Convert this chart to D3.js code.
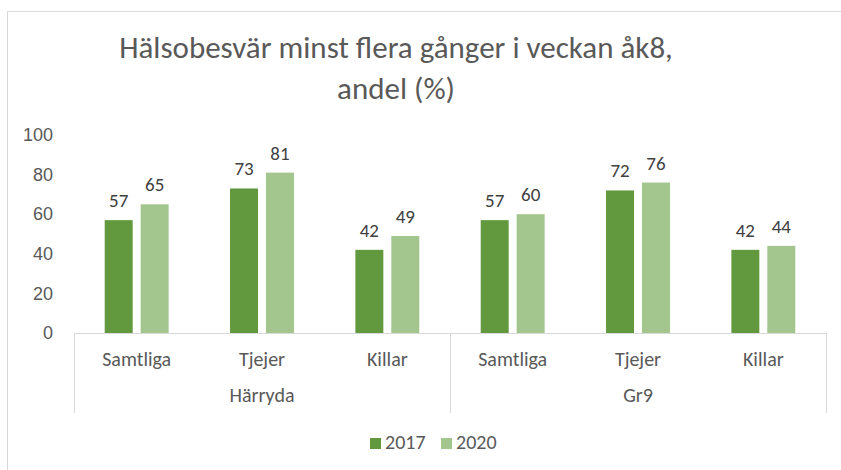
<!DOCTYPE html>
<html>
<head>
<meta charset="utf-8">
<script src="https://cdn.jsdelivr.net/npm/d3@7"></script>
<style>
  body { margin: 0; background: #fff; }
  svg { display: block; font-family: Carlito, "Liberation Sans Narrow", "Open Sans", sans-serif; }
</style>
</head>
<body>
<div id="vis"></div>
<script>
// chart data
var groups = ['Härryda', 'Gr9'];
var subCategories = ['Samtliga', 'Tjejer', 'Killar'];
var years = ['2017', '2020'];
var values2017 = [57, 73, 42, 57, 72, 42];
var values2020 = [65, 81, 49, 60, 76, 44];
var yTicks = [0, 20, 40, 60, 80, 100];

var width = 841;
var height = 470;
var colors = ['#62993e', '#a3c68e'];
var textColor = '#595959';

var svg = d3.select('#vis').append('svg')
  .attr('width', width)
  .attr('height', height);

// chart frame
svg.append('rect')
  .attr('x', 7.5).attr('y', 11.5)
  .attr('width', 850).attr('height', 480)
  .attr('fill', 'none')
  .attr('stroke', '#d9d9d9');

// title
var title = svg.append('text')
  .attr('text-anchor', 'middle')
  .attr('fill', textColor)
  .style('font-size', '31px');
title.append('tspan').attr('x', 396).attr('y', 58).text('Hälsobesvär minst flera gånger i veckan åk8,');
title.append('tspan').attr('x', 396).attr('y', 99).text('andel (%)');

// build rows from the arrays
var keys = [];
var rows = [];
groups.forEach(function (g, gi) {
  subCategories.forEach(function (s, si) {
    var i = gi * subCategories.length + si;
    keys.push(g + '|' + s);
    rows.push({ key: g + '|' + s, group: g, sub: s, values: [values2017[i], values2020[i]] });
  });
});

var plotLeft = 74, plotRight = 826, plotBottom = 333, plotTop = 135;

var x0 = d3.scaleBand()
  .domain(keys)
  .range([plotLeft, plotRight])
  .paddingInner(0.49)
  .paddingOuter(0.245);

var x1 = d3.scaleBand()
  .domain(years)
  .range([0, x0.bandwidth()])
  .paddingInner(0.222);

var y = d3.scaleLinear()
  .domain([0, 100])
  .range([plotBottom, plotTop]);

// y axis labels (no axis line)
var yAxis = svg.append('g')
  .attr('transform', 'translate(' + plotLeft + ',0)')
  .call(d3.axisLeft(y).tickValues(yTicks).tickSize(0).tickPadding(21));
yAxis.select('.domain').remove();
yAxis.selectAll('text')
  .attr('fill', textColor)
  .style('font-family', 'inherit')
  .style('font-size', '18px');

// bars
var cat = svg.selectAll('.cat')
  .data(rows)
  .enter().append('g')
  .attr('class', 'cat')
  .attr('transform', function (d) { return 'translate(' + x0(d.key) + ',0)'; });

cat.selectAll('rect')
  .data(function (d) { return d.values.map(function (v, i) { return { year: years[i], value: v, i: i }; }); })
  .enter().append('rect')
  .attr('x', function (d) { return x1(d.year); })
  .attr('y', function (d) { return y(d.value); })
  .attr('width', x1.bandwidth())
  .attr('height', function (d) { return y(0) - y(d.value); })
  .attr('fill', function (d) { return colors[d.i]; });

cat.selectAll('.lbl')
  .data(function (d) { return d.values.map(function (v, i) { return { year: years[i], value: v }; }); })
  .enter().append('text')
  .attr('class', 'lbl')
  .attr('x', function (d) { return x1(d.year) + x1.bandwidth() / 2; })
  .attr('y', function (d) { return y(d.value) - 13; })
  .attr('text-anchor', 'middle')
  .attr('fill', '#404040')
  .style('font-size', '19px')
  .text(function (d) { return d.value; });

// category axis
var axisColor = '#d9d9d9';
svg.append('line')
  .attr('x1', plotLeft).attr('x2', plotRight)
  .attr('y1', plotBottom + 0.5).attr('y2', plotBottom + 0.5)
  .attr('stroke', axisColor);

var step = x0.step();
var groupEdges = [plotLeft, plotLeft + step * 3, plotRight];
svg.selectAll('.gdiv')
  .data(groupEdges)
  .enter().append('line')
  .attr('x1', function (d) { return Math.round(d) + 0.5; })
  .attr('x2', function (d) { return Math.round(d) + 0.5; })
  .attr('y1', plotBottom).attr('y2', 413)
  .attr('stroke', axisColor);

svg.selectAll('.sublbl')
  .data(rows)
  .enter().append('text')
  .attr('x', function (d) { return x0(d.key) + x0.bandwidth() / 2; })
  .attr('y', 366)
  .attr('text-anchor', 'middle')
  .attr('fill', textColor)
  .style('font-size', '20px')
  .text(function (d) { return d.sub; });

svg.selectAll('.grplbl')
  .data(groups)
  .enter().append('text')
  .attr('x', function (d, i) { return (groupEdges[i] + groupEdges[i + 1]) / 2; })
  .attr('y', 402)
  .attr('text-anchor', 'middle')
  .attr('fill', textColor)
  .style('font-size', '20px')
  .text(function (d) { return d; });

// legend
var legend = svg.selectAll('.legend')
  .data(years)
  .enter().append('g')
  .attr('transform', function (d, i) { return 'translate(' + (370 + i * 71) + ',438)'; });
legend.append('rect')
  .attr('width', 11).attr('height', 11)
  .attr('fill', function (d, i) { return colors[i]; });
legend.append('text')
  .attr('x', 15).attr('y', 11)
  .attr('fill', textColor)
  .style('font-size', '20px')
  .text(function (d) { return d; });
</script>
</body>
</html>
